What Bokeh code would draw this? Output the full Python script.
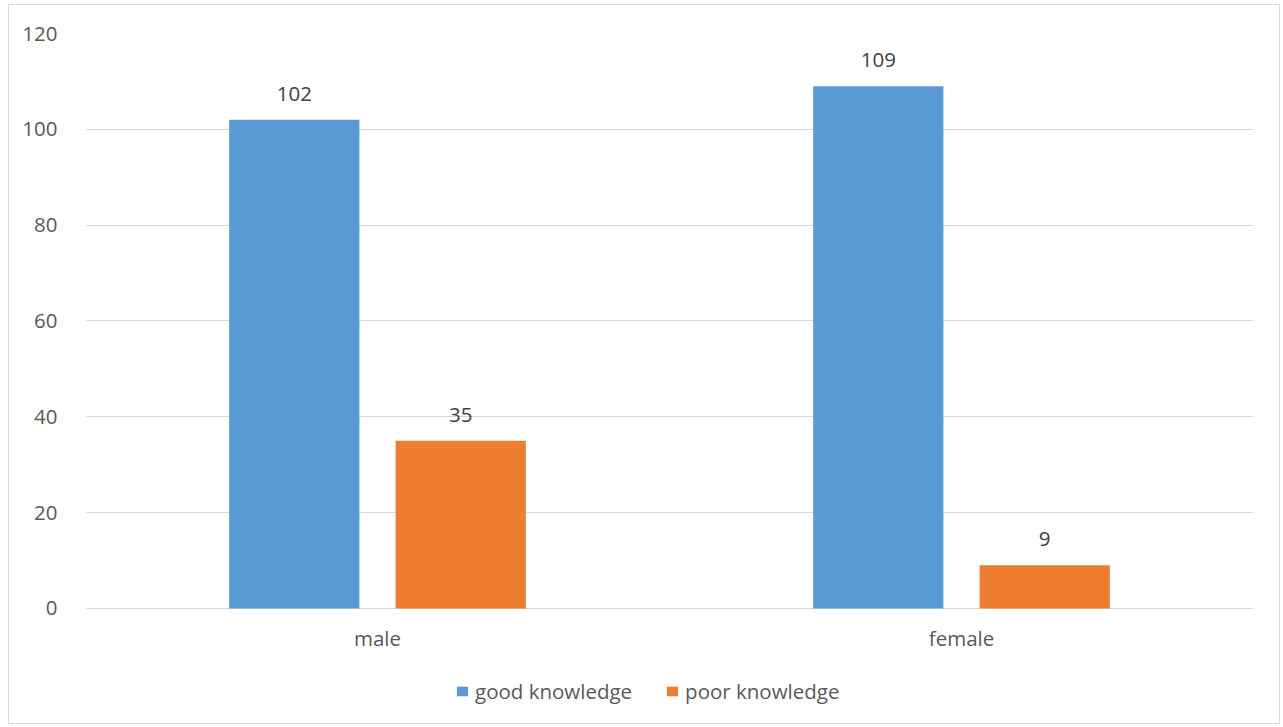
from bokeh.plotting import figure
from bokeh.models import ColumnDataSource, FactorRange, Range1d, Legend, LegendItem, FixedTicker
from bokeh.transform import dodge
from bokeh.core.properties import value
from bokeh.embed import file_html
from bokeh.resources import INLINE

# data
genders = ["male", "female"]
good_knowledge = [102, 109]
poor_knowledge = [35, 9]
y_ticks = [0, 20, 40, 60, 80, 100, 120]

FONT = "Open Sans"
FS = "20.5px"
TEXT = "#595959"
GRID = "#d9d9d9"
BLUE = "#5B9BD5"
ORANGE = "#ED7D31"

src = ColumnDataSource(dict(
    gender=genders,
    good=good_knowledge,
    poor=poor_knowledge,
    good_lbl=[str(v) for v in good_knowledge],
    poor_lbl=[str(v) for v in poor_knowledge],
    zero=[0] * len(genders),
))

# the frame runs down to the bottom so that the category names and the
# legend can sit under the zero line inside it
p = figure(
    x_range=FactorRange(*genders, range_padding=0),
    y_range=Range1d(-24.42, 120),
    width=1272, height=720,
    output_backend="svg", toolbar_location=None,
    min_border_left=76, min_border_right=28,
    min_border_top=28, min_border_bottom=0,
)
p.margin = (4, 0, 0, 8)
p.styles = {"border": "1px solid #d9d9d9"}
p.outline_line_color = None
p.background_fill_color = "white"
p.border_fill_color = "white"

off = 0.1425
bw = 0.223
r_good = p.vbar(x=dodge("gender", -off, range=p.x_range), top="good", width=bw,
                source=src, fill_color=BLUE, line_color=None)
r_poor = p.vbar(x=dodge("gender", off, range=p.x_range), top="poor", width=bw,
                source=src, fill_color=ORANGE, line_color=None)

# value labels above the bars
for col, lbl, dx in (("good", "good_lbl", -off), ("poor", "poor_lbl", off)):
    p.text(x=dodge("gender", dx, range=p.x_range), y=col, text=lbl, source=src,
           text_align="center", text_baseline="alphabetic", y_offset=-26,
           text_font=value(FONT), text_font_size=FS, text_color="#404040")

# category names under the zero line
p.text(x="gender", y="zero", text="gender", source=src,
       text_align="center", text_baseline="alphabetic", y_offset=30,
       text_font=value(FONT), text_font_size=FS, text_color=TEXT)

# axes
p.xaxis.visible = False
p.yaxis.ticker = FixedTicker(ticks=y_ticks)
p.yaxis.axis_line_color = None
p.yaxis.major_tick_line_color = None
p.yaxis.minor_tick_line_color = None
p.yaxis.major_label_standoff = 22
p.yaxis.major_label_text_font = FONT
p.yaxis.major_label_text_font_size = FS
p.yaxis.major_label_text_color = TEXT

p.xgrid.grid_line_color = None
p.ygrid.grid_line_color = GRID
p.ygrid.grid_line_width = 1

legend = Legend(
    items=[LegendItem(label="good knowledge", renderers=[r_good]),
           LegendItem(label="poor knowledge", renderers=[r_poor])],
    location=(370, 20), orientation="horizontal",
    padding=0, margin=0, spacing=33, label_standoff=6,
    glyph_width=14, glyph_height=12, label_height=20,
    label_text_font=FONT, label_text_font_size=FS, label_text_color=TEXT,
    border_line_color=None, background_fill_alpha=0,
)
p.add_layout(legend, "center")

open("out.html", "w").write(file_html(p, INLINE))
